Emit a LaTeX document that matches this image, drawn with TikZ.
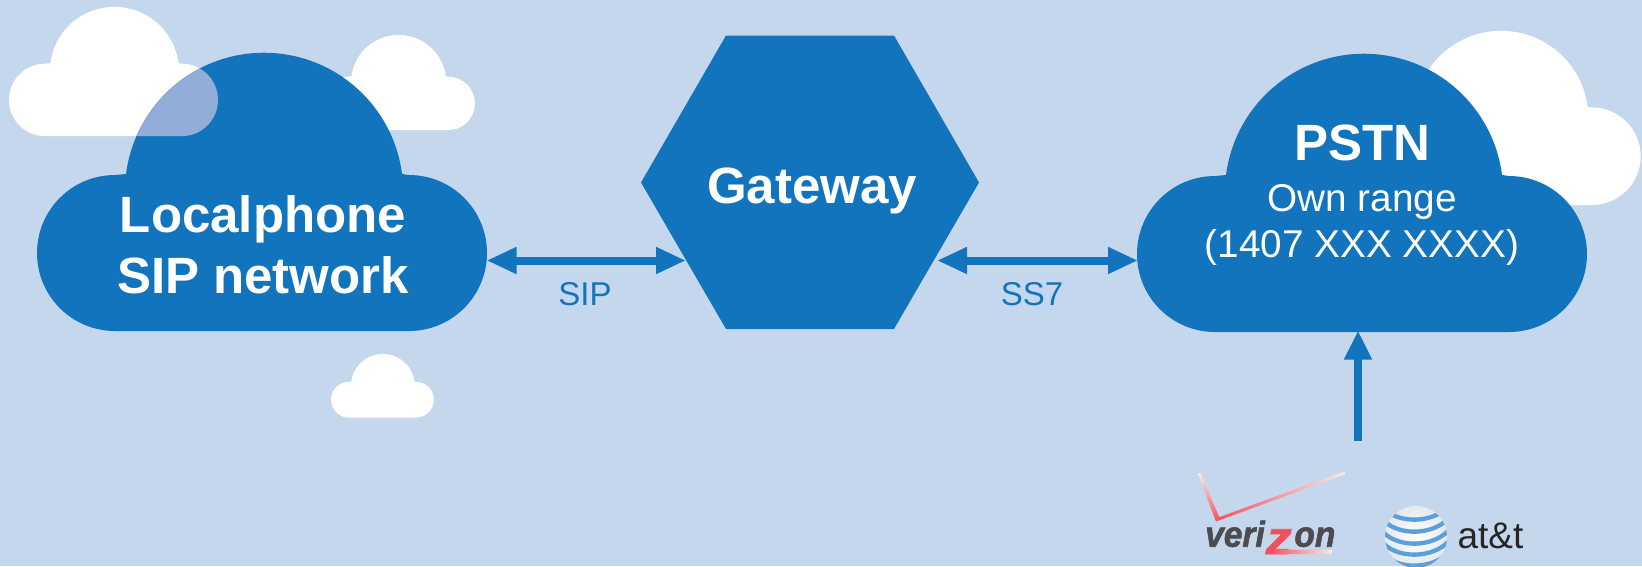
\documentclass[tikz,border=0pt]{standalone}
\usepackage{fontspec}
\setmainfont{Liberation Sans}
\newfontfamily\vzfont[BoldItalicFeatures={FakeBold=1.6}]{Liberation Sans}
\usetikzlibrary{arrows.meta}
\definecolor{bgblue}{HTML}{C5D7EC}
\definecolor{netblue}{HTML}{1174BD}
\definecolor{overlap}{HTML}{92ADD8}
\definecolor{vzred}{HTML}{F2505F}
\definecolor{vzpale}{HTML}{FBE9E4}
\definecolor{vzgrey}{HTML}{4D4B4E}
\definecolor{stripe}{HTML}{5BA0DD}
\definecolor{globeedge}{HTML}{E4E9EE}
\newcommand{\cloudshape}{(78,278) arc[start angle=90,end angle=270,radius=78] -- (89,121) arc[start angle=187.4,end angle=352.6,radius=139.2] -- (372,122) arc[start angle=270,end angle=450,radius=78] -- cycle}
\newcommand{\fsz}[1]{\fontsize{#1}{#1}\selectfont}
\tikzset{
  bigbold/.style={anchor=base,text=white,font=\fsz{51}\bfseries,inner sep=0pt},
  subtext/.style={anchor=base,text=white,font=\fsz{38.7},inner sep=0pt},
  linklabel/.style={anchor=base,text=netblue,font=\fsz{33},inner sep=0pt},
  link/.style={draw=netblue,line width=8pt,{Triangle[length=30pt,width=25pt]}-{Triangle[length=30pt,width=25pt]}},
  feed/.style={draw=netblue,line width=8pt,-{Triangle[length=29pt,width=26pt]}},
  smallcloud/.style={fill=white}
}
\begin{document}
\begin{tikzpicture}[x=1pt,y=-1pt]
\useasboundingbox (0,0) rectangle (1642,566);
\fill[bgblue] (0,0) rectangle (1642,566);
% white background clouds
\fill[smallcloud,shift={(9,7)},scale=.4645] \cloudshape;
\fill[smallcloud,shift={(321,35)},scale=.342] \cloudshape;
\fill[smallcloud,shift={(331,354)},scale=.2285] \cloudshape;
\fill[smallcloud,shift={(1359,31)},scale=.626] \cloudshape;
% main clouds
\fill[netblue,shift={(37,53)}] \cloudshape;
\fill[netblue,shift={(1137,54)}] \cloudshape;
% translucent overlap
\begin{scope}
\clip[shift={(37,53)}] \cloudshape;
\fill[overlap,shift={(9,7)},scale=.4645] \cloudshape;
\end{scope}
% gateway
\fill[netblue] (726,35.5) -- (894,35.5) -- (979,182.5) -- (894,329) -- (726,329) -- (641,182.5) -- cycle;
% texts
\node[bigbold] (lp1) at (263,232) {Localphone};
\node[bigbold] (lp2) at (263,293) {SIP network};
\node[bigbold] (gw) at (812,203) {Gateway};
\node[bigbold] (pstn) at (1362,160.5) {PSTN};
\node[subtext] (own) at (1362,211.5) {Own range};
\node[subtext] (range) at (1362,257.5) {(1407 XXX XXXX)};
\node[linklabel] (sip) at (585,305.5) {SIP};
\node[linklabel] (ss7) at (1032,305.5) {SS7};
% connector ends
\coordinate (lpEast) at (486.5,260.5);
\coordinate (gwWest) at (686,260.5);
\coordinate (gwEast) at (937,260.5);
\coordinate (pstnWest) at (1138,260.5);
\coordinate (pstnSouth) at (1358,330.5);
\coordinate (carriers) at (1358,441);
\draw[link] (lpEast) -- (gwWest);
\draw[link] (gwEast) -- (pstnWest);
\draw[feed] (carriers) -- (pstnSouth);
% verizon logo
\shade[top color=vzpale,bottom color=vzred] (1197.5,473) -- (1200.5,473) -- (1219.5,517.5) -- (1216,521.5) -- cycle;
\shade[left color=vzred,middle color=vzred!85!vzpale,right color=vzpale] (1216,521.5) -- (1219.5,517) -- (1344,471.5) -- (1346,474) -- cycle;
\node[anchor=base west,inner sep=0pt,text=vzgrey,font=\fsz{36}\vzfont\bfseries\itshape] (verizon) at (1205,546.7)
  {\scalebox{.93}[1]{veri\hspace{1pt}\raisebox{-7.3pt}{\color{vzred}\scalebox{1.55}[1.3]{z}}\hspace{3pt}on}};
\shade[left color=vzred,middle color=vzred,right color=vzpale] (1272,549.5) -- (1332,549.5) -- (1332,554) -- (1269,554) -- cycle;
% at&t logo
\begin{scope}
\clip (1416,537) circle[radius=31];
\shade[inner color=white,outer color=globeedge] (1416,537) circle[radius=31];
\foreach \e in {508,520,532,543,554}
  \draw[stripe,line width=4.3pt] (1384,\e+1) .. controls (1400,\e+16) and (1432,\e+15) .. (1448,\e-1);
\end{scope}
\node[anchor=base,inner sep=0pt,text=black!85,font=\fsz{37}] (att) at (1490.5,548.7) {at\&t};
\end{tikzpicture}
\end{document}
